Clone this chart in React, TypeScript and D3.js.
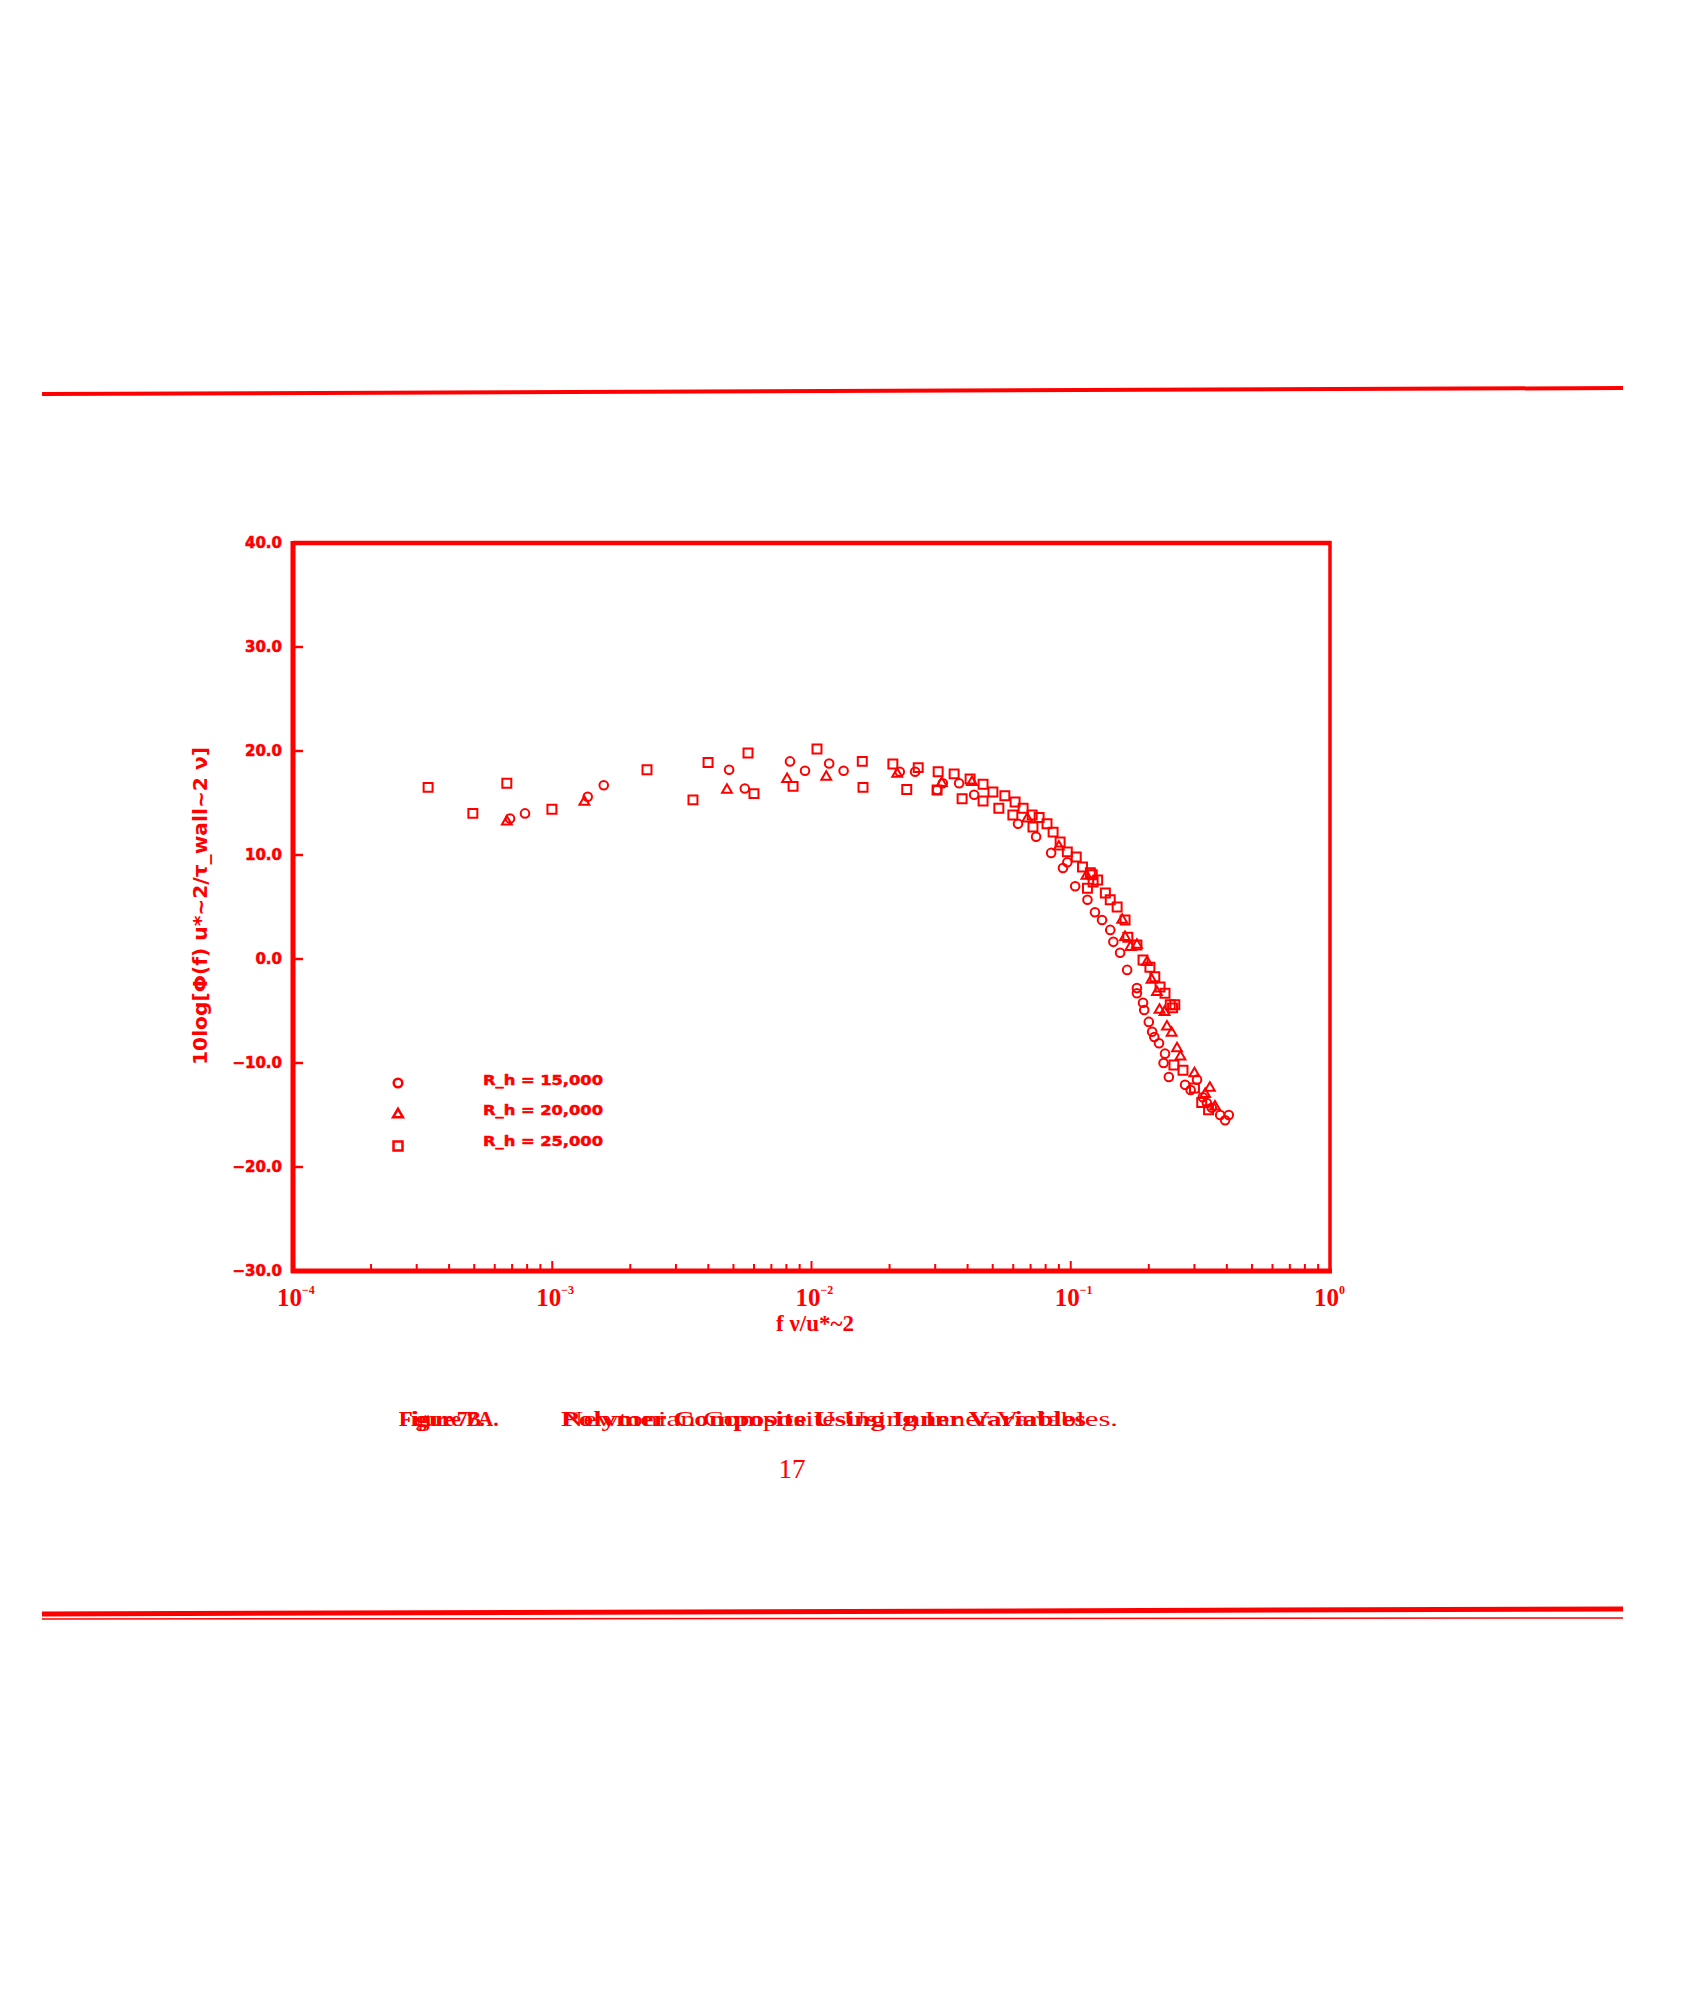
import * as d3 from "d3";

// R_h = 15,000 (circles): [f nu/u*^2, 10log(...)]
const circleData: [number, number][] = [
  [6.87e-4, 13.5], [7.85e-4, 14.0], [1.37e-3, 15.6], [1.58e-3, 16.7],
  [4.81e-3, 18.2], [5.53e-3, 16.4], [8.26e-3, 19.0], [9.44e-3, 18.1],
  [1.17e-2, 18.8], [1.33e-2, 18.1], [2.19e-2, 18.0], [2.51e-2, 18.0],
  [3.21e-2, 16.9], [3.05e-2, 16.25], [3.71e-2, 16.9], [4.24e-2, 15.8],
  [6.26e-2, 13.0], [7.35e-2, 11.75], [8.4e-2, 10.2], [9.33e-2, 8.75],
  [9.7e-2, 9.3], [0.104, 7.0], [0.116, 5.7], [0.124, 4.5], [0.132, 3.75],
  [0.142, 2.8], [0.146, 1.65], [0.155, 0.6], [0.165, -1.05], [0.18, -2.8],
  [0.18, -3.3], [0.19, -4.2], [0.192, -4.9], [0.2, -6.05], [0.206, -7.0],
  [0.21, -7.5], [0.219, -8.1], [0.231, -9.1], [0.228, -10.0], [0.239, -11.35],
  [0.276, -12.1], [0.29, -12.6], [0.307, -11.6], [0.323, -13.3],
  [0.335, -13.85], [0.35, -14.3], [0.377, -15.0], [0.394, -15.5], [0.407, -15.0],
];

// R_h = 20,000 (triangles)
const triangleData: [number, number][] = [
  [6.68e-4, 13.2], [1.33e-3, 15.1], [4.72e-3, 16.25], [8.05e-3, 17.3],
  [1.14e-2, 17.5], [2.14e-2, 17.8], [3.18e-2, 16.9], [4.16e-2, 17.0],
  [0.068, 13.5], [0.09, 10.8], [0.115, 8.0], [0.158, 3.75], [0.162, 2.1],
  [0.17, 1.15], [0.18, 1.35], [0.197, -0.3], [0.205, -2.0], [0.215, -3.2],
  [0.22, -4.9], [0.23, -5.1], [0.235, -6.5], [0.245, -7.1], [0.257, -8.6],
  [0.265, -9.4], [0.3, -11.0], [0.344, -12.4], [0.33, -13.0], [0.36, -14.2],
];

// R_h = 25,000 (squares)
const squareData: [number, number][] = [
  [3.32e-4, 16.5], [4.94e-4, 14.0], [6.68e-4, 16.9], [9.97e-4, 14.4],
  [2.32e-3, 18.2], [3.49e-3, 15.3], [3.99e-3, 18.9], [5.69e-3, 19.8],
  [6.0e-3, 15.9], [8.49e-3, 16.6], [1.05e-2, 20.2], [1.57e-2, 19.0],
  [1.58e-2, 16.5], [2.06e-2, 18.75], [2.33e-2, 16.3], [2.58e-2, 18.4],
  [3.08e-2, 18.0], [3.05e-2, 16.25], [3.55e-2, 17.8], [3.81e-2, 15.4],
  [4.09e-2, 17.3], [4.59e-2, 16.8], [4.59e-2, 15.2], [5.01e-2, 16.05],
  [5.57e-2, 15.7], [5.28e-2, 14.5], [6.1e-2, 15.1], [6.55e-2, 14.5],
  [5.98e-2, 13.85], [7.1e-2, 13.85], [7.55e-2, 13.6], [8.1e-2, 13.0],
  [7.15e-2, 12.7], [8.55e-2, 12.2], [9.1e-2, 11.25], [9.7e-2, 10.3],
  [0.105, 9.8], [0.111, 8.85], [0.121, 8.1], [0.116, 6.8], [0.122, 7.4],
  [0.119, 8.3], [0.127, 7.6], [0.136, 6.35], [0.142, 5.7], [0.151, 5.0],
  [0.162, 3.75], [0.166, 2.1], [0.18, 1.35], [0.19, -0.1], [0.202, -0.8],
  [0.211, -1.7], [0.221, -2.7], [0.231, -3.3], [0.242, -4.4], [0.252, -4.4],
  [0.247, -4.7], [0.25, -10.2], [0.271, -10.7], [0.3, -12.4], [0.32, -13.8],
  [0.34, -14.5],
];

const legendLabels = ["R_h = 15,000", "R_h = 20,000", "R_h = 25,000"];
const yTicks = [40, 30, 20, 10, 0, -10, -20, -30];
const xDecades = [-4, -3, -2, -1, 0];

const RED = "#ff0000";

export default function App() {
  const x = d3.scaleLog().domain([1e-4, 1]).range([293, 1330]);
  const y = d3.scaleLinear().domain([-30, 40]).range([1271, 543]);

  const circlePath = d3.symbol(d3.symbolCircle, 58)()!;
  const trianglePath = d3.symbol(d3.symbolTriangle, 42)()!;
  const squarePath = d3.symbol(d3.symbolSquare, 80)()!;
  const shapes = [circlePath, trianglePath, squarePath];
  const series = [circleData, triangleData, squareData];

  const minorTicks: number[] = [];
  for (let d = -4; d < 0; d++) {
    for (let k = 2; k <= 9; k++) minorTicks.push(k * Math.pow(10, d));
  }

  const fmtY = (v: number) => (v < 0 ? "\u2212" + Math.abs(v).toFixed(1) : v.toFixed(1));

  return (
    <svg
      width={1700}
      height={2000}
      style={{ position: "absolute", left: 0, top: 0, background: "#fff" }}
    >
      {/* page rules */}
      <line x1={42} y1={394} x2={1623} y2={388} stroke={RED} strokeWidth={4} />
      <line x1={42} y1={1614} x2={1623} y2={1609} stroke={RED} strokeWidth={5} />
      <line x1={42} y1={1619} x2={1623} y2={1618} stroke={RED} strokeWidth={1.5} />

      {/* frame */}
      <g stroke={RED} fill="none">
        <line x1={293} y1={543} x2={1331} y2={543} strokeWidth={4.5} />
        <line x1={293} y1={541} x2={293} y2={1273} strokeWidth={5} />
        <line x1={291} y1={1271} x2={1332} y2={1271} strokeWidth={5} />
        <line x1={1330} y1={541} x2={1330} y2={1273} strokeWidth={3.5} />
      </g>

      {/* y ticks */}
      {yTicks.map((t) => (
        <g key={t}>
          <line x1={293} x2={303} y1={y(t)} y2={y(t)} stroke={RED} strokeWidth={2.5} />
          <text
            x={282}
            y={y(t)}
            dy="0.35em"
            textAnchor="end"
            fill={RED}
            fontFamily="DejaVu Sans"
            fontWeight="bold"
            fontSize={15}
            stroke={RED}
            strokeWidth={0.6}
          >
            {fmtY(t)}
          </text>
        </g>
      ))}

      {/* x ticks */}
      {minorTicks.map((t, i) => (
        <line key={i} x1={x(t)} x2={x(t)} y1={1271} y2={1264} stroke={RED} strokeWidth={2} />
      ))}
      {xDecades.map((d) => (
        <g key={d}>
          <line
            x1={x(Math.pow(10, d))}
            x2={x(Math.pow(10, d))}
            y1={1271}
            y2={1261}
            stroke={RED}
            strokeWidth={2}
          />
          <text
            x={x(Math.pow(10, d)) - 16}
            y={1306}
            fill={RED}
            fontFamily="Liberation Serif"
            fontWeight="bold"
            fontSize={25}
          >
            10
            <tspan dy={-12} fontSize={12}>
              {d === 0 ? "0" : "\u2212" + Math.abs(d)}
            </tspan>
          </text>
        </g>
      ))}

      {/* axis titles */}
      <text
        x={815}
        y={1331}
        textAnchor="middle"
        fill={RED}
        fontFamily="Liberation Serif"
        fontWeight="bold"
        fontSize={23}
      >
        f ν/u*~2
      </text>
      <text
        transform="translate(207,906) rotate(-90)"
        textAnchor="middle"
        fill={RED}
        fontFamily="DejaVu Sans"
        fontWeight="bold"
        fontSize={19}
        textLength={318}
        lengthAdjust="spacingAndGlyphs"
      >
        10log[Φ(f) u*~2/τ_wall~2 ν]
      </text>

      {/* data */}
      {series.map((data, si) => (
        <g key={si} fill="none" stroke={RED} strokeWidth={2}>
          {data.map(([f, v], i) => (
            <path key={i} d={shapes[si]} transform={`translate(${x(f)},${y(v)})`} />
          ))}
        </g>
      ))}

      {/* legend */}
      {legendLabels.map((label, i) => (
        <g key={label}>
          <path
            d={shapes[i]}
            transform={`translate(398,${1083 + i * 31.5})`}
            fill="none"
            stroke={RED}
            strokeWidth={2.5}
          />
          <text
            x={483}
            y={1080 + i * 30.5}
            dy="0.35em"
            fill={RED}
            fontFamily="DejaVu Sans"
            fontWeight="bold"
            fontSize={14}
            stroke={RED}
            strokeWidth={0.5}
            textLength={120}
            lengthAdjust="spacingAndGlyphs"
          >
            {label}
          </text>
        </g>
      ))}

      {/* caption */}
      <g fill={RED} fontFamily="Liberation Serif">
        <text x={399} y={1426} fontSize={22} fontWeight="bold">
          Figure 7A.
        </text>
        <text x={399} y={1426} fontSize={22} fontWeight="bold" textLength={86}>
          Figure 7B.
        </text>
        <text x={561} y={1426} fontSize={22} fontWeight="bold" textLength={525} lengthAdjust="spacingAndGlyphs">
          Polymer Composite Using Inner Variables
        </text>
        <text x={561} y={1426} fontSize={22} textLength={557} lengthAdjust="spacingAndGlyphs">
          Newtonian Composite Using Inner Variables.
        </text>
        <text x={792} y={1478} fontSize={27} textAnchor="middle">
          17
        </text>
      </g>
    </svg>
  );
}
